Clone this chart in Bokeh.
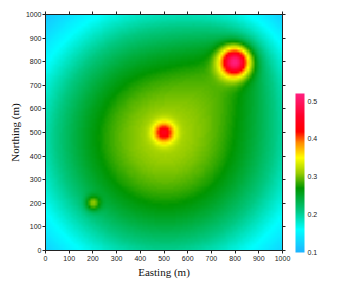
import numpy as np
from bokeh.plotting import figure
from bokeh.models import (LinearColorMapper, ColorBar, LinearAxis, FixedTicker,
                          Range1d, Label)
from bokeh.embed import file_html
from bokeh.resources import INLINE

# ---- data: anomaly sources (model) ----
src_x = [505, 500, 800, 800, 200]          # easting of sources (m)
src_y = [475, 500, 800, 800, 200]          # northing (m)
src_amp = [0.315, 0.13, 0.26, 0.04, 0.08]  # peak anomaly (mGal)
src_width = [720, 44, 64, 200, 30]         # lateral width (m)

x_ticks = [0, 100, 200, 300, 400, 500, 600, 700, 800, 900, 1000]
cbar_ticks = [0.1, 0.2, 0.3, 0.4, 0.5]
cmap_stops = [0.10, 0.16, 0.21, 0.27, 0.31, 0.35, 0.39, 0.42, 0.46, 0.52]
cmap_colors = ["#1EB4FF", "#00FFFF", "#00C880", "#009600", "#9ACD00",
               "#FFFF00", "#FF8C00", "#FF0000", "#FF0028", "#FF2080"]
vmin, vmax = 0.10, 0.52

# ---- grid ----
n = 100
cx = (np.arange(n) + 0.5) * 1000 / n
X, Y = np.meshgrid(cx, cx)
field = np.zeros_like(X)
for sx, sy, a, w in zip(src_x, src_y, src_amp, src_width):
    field += a * np.exp(-((X - sx) ** 2 + (Y - sy) ** 2) / w ** 2)

# ---- palette ----
def hex2rgb(h):
    h = h.lstrip("#")
    return [int(h[i:i + 2], 16) for i in (0, 2, 4)]

rgb = np.array([hex2rgb(c) for c in cmap_colors], dtype=float)
vals = np.linspace(vmin, vmax, 256)
palette = []
for v in vals:
    r = np.interp(v, cmap_stops, rgb[:, 0])
    g = np.interp(v, cmap_stops, rgb[:, 1])
    b = np.interp(v, cmap_stops, rgb[:, 2])
    palette.append("#%02x%02x%02x" % (int(round(r)), int(round(g)), int(round(b))))

mapper = LinearColorMapper(palette=palette, low=vmin, high=vmax)

p = figure(frame_width=237, frame_height=236,
           x_range=Range1d(0, 1000), y_range=Range1d(0, 1000),
           output_backend="svg", toolbar_location=None,
           min_border_left=45, min_border_right=49, min_border_top=14,
           min_border_bottom=30)
p.image(image=[field], x=0, y=0, dw=1000, dh=1000, color_mapper=mapper)
p.grid.visible = False
p.outline_line_color = "#222222"
p.outline_line_width = 1

tick_font = "Liberation Sans"
for ax in (p.xaxis[0], p.yaxis[0]):
    ax.ticker = FixedTicker(ticks=x_ticks)
    ax.minor_tick_line_color = None
    ax.major_tick_in = 0
    ax.major_tick_out = 3
    ax.major_label_text_font = tick_font
    ax.major_label_text_font_size = "7px"
    ax.major_label_text_color = "#222222"
    ax.axis_line_color = "#222222"
    ax.major_tick_line_color = "#222222"
    ax.major_label_standoff = 1
    ax.axis_label_text_font = "Liberation Serif"
    ax.axis_label_text_font_size = "11px"
    ax.axis_label_text_font_style = "normal"
    ax.axis_label_text_color = "#111111"
    ax.axis_label_standoff = 2
p.xaxis[0].major_label_standoff = 2
p.xaxis[0].axis_label = "Easting (m)"
p.yaxis[0].axis_label = "Northing (m)"

# mirrored tick marks on top and right (labels hidden)
for loc in ("above", "right"):
    ax = LinearAxis(ticker=FixedTicker(ticks=x_ticks))
    ax.minor_tick_line_color = None
    ax.major_tick_in = 0
    ax.major_tick_out = 3
    ax.major_label_standoff = 0
    ax.major_label_text_font_size = "0px"
    ax.axis_line_color = "#222222"
    ax.major_tick_line_color = "#222222"
    p.add_layout(ax, loc)

cb = ColorBar(color_mapper=mapper, ticker=FixedTicker(ticks=cbar_ticks),
              width=9, height=159, location=(250, -2), padding=0,
              label_standoff=3, major_tick_line_color=None,
              major_label_text_font=tick_font, major_label_text_font_size="7px",
              major_label_text_color="#222222",
              background_fill_alpha=0, border_line_color=None,
              bar_line_color=None)
p.add_layout(cb, "center")

title = Label(x=243, y=163, x_units="screen", y_units="screen",
              text="Δg (mGal)", text_font="Liberation Serif",
              text_font_size="7.5px", text_color="#111111")
p.add_layout(title)

open("out.html", "w").write(file_html(p, INLINE))
